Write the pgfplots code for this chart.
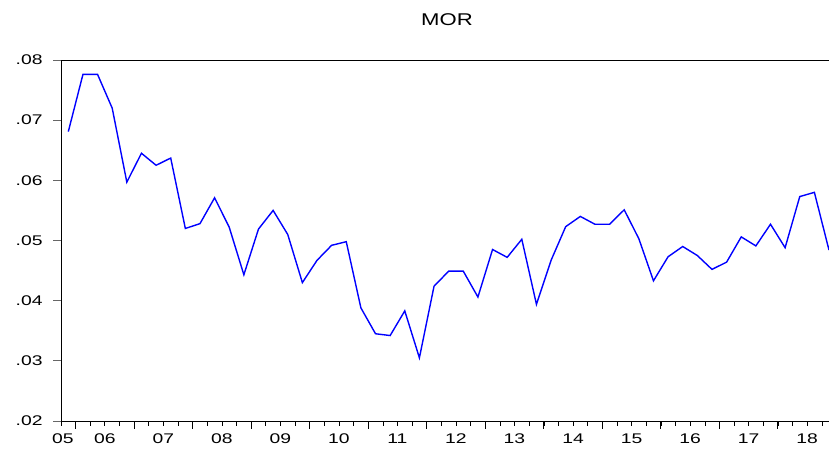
\documentclass[border=0pt]{standalone}
\usepackage{pgfplots}
\pgfplotsset{compat=1.18}
\usepackage{graphicx}
\usepackage{fontspec}
\setmainfont{Liberation Sans}
% labels in the reference are stretched sideways
\newcommand\sx[1]{\scalebox{1.38}[1]{#1}}

\begin{document}
\begin{tikzpicture}
\begin{axis}[
    scale only axis,
    width=768pt, height=361pt,
    xmin=2005.75, xmax=2018.875,
    ymin=0.02, ymax=0.08,
    scaled y ticks=false,
    axis x line*=box, axis y line*=left,
    axis line style={black, line width=0.9pt},
    tick pos=left, tick align=outside,
    major tick length=8pt, minor tick length=5pt,
    every tick/.style={black, line width=0.8pt},
    xtick={2006,2007,...,2018}, xticklabels={},
    minor xtick={2005.75,2006,...,2018.75},
    extra x ticks={2005.78,2006.5,2007.5,2008.5,2009.5,2010.5,2011.5,2012.5,2013.5,2014.5,2015.5,2016.5,2017.5,2018.5},
    extra x tick labels={\sx{05},\sx{06},\sx{07},\sx{08},\sx{09},\sx{10},\sx{11},\sx{12},\sx{13},\sx{14},\sx{15},\sx{16},\sx{17},\sx{18}},
    extra x tick style={major tick length=0pt, xticklabel style={yshift=-9pt}},
    ytick={0.02,0.03,0.04,0.05,0.06,0.07,0.08},
    yticklabels={\sx{.02},\sx{.03},\sx{.04},\sx{.05},\sx{.06},\sx{.07},\sx{.08}},
    yticklabel style={xshift=-7pt},
    ytick style={gray!80!black},
    ticklabel style={font=\fontsize{14}{16}\selectfont, text=black},
]
\addplot[blue, line width=1.4pt, mark=none] coordinates {
(2005.875,0.0681) (2006.125,0.0776) (2006.375,0.0776) (2006.625,0.0720)
(2006.875,0.0597) (2007.125,0.0645) (2007.375,0.0625) (2007.625,0.0637)
(2007.875,0.0520) (2008.125,0.0528) (2008.375,0.0571) (2008.625,0.0522)
(2008.875,0.0443) (2009.125,0.0519) (2009.375,0.0550) (2009.625,0.0510)
(2009.875,0.0430) (2010.125,0.0467) (2010.375,0.0492) (2010.625,0.0498)
(2010.875,0.0388) (2011.125,0.0345) (2011.375,0.0342) (2011.625,0.0383)
(2011.875,0.0305) (2012.125,0.0424) (2012.375,0.0449) (2012.625,0.0449)
(2012.875,0.0406) (2013.125,0.0485) (2013.375,0.0472) (2013.625,0.0502)
(2013.875,0.0394) (2014.125,0.0467) (2014.375,0.0523) (2014.625,0.0540)
(2014.875,0.0527) (2015.125,0.0527) (2015.375,0.0551) (2015.625,0.0503)
(2015.875,0.0433) (2016.125,0.0473) (2016.375,0.0490) (2016.625,0.0475)
(2016.875,0.0452) (2017.125,0.0464) (2017.375,0.0506) (2017.625,0.0491)
(2017.875,0.0527) (2018.125,0.0488) (2018.375,0.0573) (2018.625,0.0580)
(2018.875,0.0484)
};
\coordinate (sw) at (rel axis cs:0,0);
\coordinate (ne) at (rel axis cs:1,1);
\coordinate (tc) at (rel axis cs:0.5,1);
\end{axis}
\node[font=\fontsize{17}{20}\selectfont] at ([xshift=2pt,yshift=40pt]tc) {\scalebox{1.3}[1]{MOR}};
\pgfresetboundingbox
\path[use as bounding box] ([xshift=-61pt,yshift=-28pt]sw) rectangle ([yshift=60pt]ne);
\end{tikzpicture}
\end{document}
